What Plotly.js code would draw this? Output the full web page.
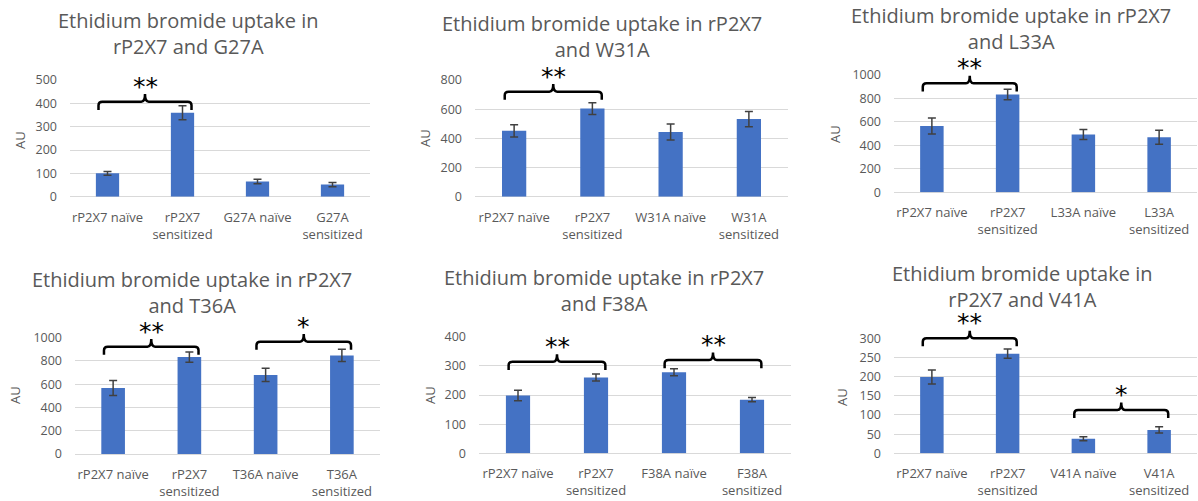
<!DOCTYPE html>
<html>
<head>
<meta charset="utf-8">
<script src="https://cdn.plot.ly/plotly-3.0.1.min.js"></script>
<style>html,body{margin:0;padding:0;background:#fff;}#chart{width:1198px;height:501px;}</style>
</head>
<body>
<div id="chart"></div>
<script>
// ---- data ----
const titles = [
  "Ethidium bromide uptake in<br>rP2X7 and G27A",
  "Ethidium bromide uptake in rP2X7<br>and W31A",
  "Ethidium bromide uptake in rP2X7<br>and L33A",
  "Ethidium bromide uptake in rP2X7<br>and T36A",
  "Ethidium bromide uptake in rP2X7<br>and F38A",
  "Ethidium bromide uptake in<br>rP2X7 and V41A"
];
const labels_G27A = ["rP2X7 naïve", "rP2X7<br>sensitized", "G27A naïve", "G27A<br>sensitized"];
const labels_W31A = ["rP2X7 naïve", "rP2X7<br>sensitized", "W31A naïve", "W31A<br>sensitized"];
const labels_L33A = ["rP2X7 naïve", "rP2X7<br>sensitized", "L33A naïve", "L33A<br>sensitized"];
const labels_T36A = ["rP2X7 naïve", "rP2X7<br>sensitized", "T36A naïve", "T36A<br>sensitized"];
const labels_F38A = ["rP2X7 naïve", "rP2X7<br>sensitized", "F38A naïve", "F38A<br>sensitized"];
const labels_V41A = ["rP2X7 naïve", "rP2X7<br>sensitized", "V41A naïve", "V41A<br>sensitized"];

const values_G27A = [100, 360, 65, 52];
const err_G27A    = [8, 30, 10, 9];
const values_W31A = [452, 604, 443, 532];
const err_W31A    = [42, 40, 55, 52];
const values_L33A = [565, 833, 493, 470];
const err_L33A    = [68, 45, 42, 60];
const values_T36A = [568, 833, 680, 848];
const err_T36A    = [65, 45, 57, 52];
const values_F38A = [198, 260, 278, 184];
const err_F38A    = [18, 12, 12, 7];
const values_V41A = [199, 260, 38, 61];
const err_V41A    = [18, 12, 5, 8];

const yMax  = [500, 800, 1000, 1000, 400, 300];
const yStep = [100, 200, 200, 200, 100, 50];

// significance brackets: [from index, to index, bracket level (AU), label]
const sig_G27A = [[0, 1, 407, "**"]];
const sig_W31A = [[0, 1, 720, "**"]];
const sig_L33A = [[0, 1, 929, "**"]];
const sig_T36A = [[0, 1, 923, "**"], [2, 3, 966, "*"]];
const sig_F38A = [[0, 1, 314, "**"], [2, 3, 320, "**"]];
const sig_V41A = [[0, 1, 300, "**"], [2, 3, 113, "*"]];

// ---- layout constants (pixels) ----
const W = 1198, H = 501;
const boxes = [ // [left, right, top, bottom]
  [70, 370, 80, 196.7],
  [475, 788, 80, 196.7],
  [894, 1197, 75, 192.3],
  [75, 380, 337.7, 454],
  [479, 791, 336.7, 453.3],
  [894, 1197, 338.3, 453.3]
];
const titlePos = [[188, 33.5], [602, 37], [1011, 29], [192, 292], [604, 290.5], [1022, 286]];
const auPos = [[20, 140], [425, 138], [835, 134], [15, 395], [430, 395], [842, 397]];

const panels = [
  [labels_G27A, values_G27A, err_G27A, sig_G27A],
  [labels_W31A, values_W31A, err_W31A, sig_W31A],
  [labels_L33A, values_L33A, err_L33A, sig_L33A],
  [labels_T36A, values_T36A, err_T36A, sig_T36A],
  [labels_F38A, values_F38A, err_F38A, sig_F38A],
  [labels_V41A, values_V41A, err_V41A, sig_V41A]
];

const FONT = "Open Sans, Liberation Sans, sans-serif";
const GREY = "#595959";
const traces = [];
const layout = {
  width: W, height: H,
  margin: {l: 0, r: 0, t: 0, b: 0},
  paper_bgcolor: "#ffffff", plot_bgcolor: "rgba(0,0,0,0)",
  showlegend: false,
  annotations: [], shapes: [],
  font: {family: FONT, color: GREY}
};

panels.forEach((p, i) => {
  const [labels, vals, errs, sigs] = p;
  const n = i + 1;
  const xa = n === 1 ? "xaxis" : "xaxis" + n;
  const ya = n === 1 ? "yaxis" : "yaxis" + n;
  const xr = n === 1 ? "x" : "x" + n;
  const yr = n === 1 ? "y" : "y" + n;
  const idx = labels.map((_, k) => k);
  traces.push({
    type: "bar", x: idx, y: vals, width: 0.31,
    marker: {color: "#4472C4", line: {width: 0}},
    error_y: {type: "data", array: errs, visible: true, color: "#404040", thickness: 1.5, width: 4},
    xaxis: xr, yaxis: yr, hoverinfo: "skip"
  });
  const b = boxes[i];
  const xRange = [-0.5, 3.5];
  layout[xa] = {
    domain: [b[0] / W, b[1] / W], anchor: yr,
    range: xRange, tickvals: idx, ticktext: labels,
    showgrid: false, zeroline: false, showline: false, ticks: "",
    tickfont: {family: FONT, size: 13, color: GREY}, ticklabelstandoff: 11,
    fixedrange: true
  };
  layout[ya] = {
    domain: [1 - b[3] / H, 1 - b[2] / H], anchor: xr,
    range: [0, yMax[i]], dtick: yStep[i], tick0: 0,
    showgrid: true, gridcolor: "#d9d9d9", gridwidth: 1,
    zeroline: true, zerolinecolor: "#d9d9d9", zerolinewidth: 1,
    showline: false, ticks: "",
    tickfont: {family: FONT, size: 12.5, color: GREY}, ticklabelstandoff: 12,
    fixedrange: true
  };
  layout.annotations.push({
    xref: "paper", yref: "paper", x: titlePos[i][0] / W, y: 1 - titlePos[i][1] / H,
    xanchor: "center", yanchor: "middle", showarrow: false,
    text: titles[i], font: {family: FONT, size: 20, color: GREY}, align: "center"
  });
  layout.annotations.push({
    xref: "paper", yref: "paper", x: auPos[i][0] / W, y: 1 - auPos[i][1] / H,
    xanchor: "center", yanchor: "middle", showarrow: false, textangle: -90,
    text: "AU", font: {family: FONT, size: 13, color: GREY}
  });
  // map subplot data coords -> paper coords (same linear map as the axes use)
  const ym = yMax[i];
  const PX = v => (b[0] + (v - xRange[0]) / (xRange[1] - xRange[0]) * (b[1] - b[0])) / W;
  const PY = v => 1 - (b[3] - v / ym * (b[3] - b[2])) / H;
  sigs.forEach(s => {
    const [a, c, lvl, lab] = s;
    const x0 = a - 0.12, x1 = c + 0.12, xm = (a + c) / 2;
    const d = 0.07 * ym, pk = 0.065 * ym, r = 0.03 * ym, rx = 0.05;
    const P = (x, y) => `${PX(x)},${PY(y)}`;
    const path = `M ${P(x0, lvl - d)} L ${P(x0, lvl - r)} Q ${P(x0, lvl)} ${P(x0 + rx, lvl)} ` +
      `L ${P(xm - rx, lvl)} Q ${P(xm, lvl)} ${P(xm, lvl + pk)} Q ${P(xm, lvl)} ${P(xm + rx, lvl)} ` +
      `L ${P(x1 - rx, lvl)} Q ${P(x1, lvl)} ${P(x1, lvl - r)} L ${P(x1, lvl - d)}`;
    layout.shapes.push({type: "path", xref: "paper", yref: "paper", path: path,
      line: {color: "#000000", width: 2.5}, layer: "above"});
    layout.annotations.push({
      xref: "paper", yref: "paper", x: PX(xm), y: PY(lvl), xanchor: "center", yanchor: "bottom",
      yshift: -1, showarrow: false, text: lab,
      font: {family: "DejaVu Sans, sans-serif", size: 25, color: "#000000"}
    });
  });
});

Plotly.newPlot("chart", traces, layout, {staticPlot: true, displayModeBar: false});
</script>
</body>
</html>
